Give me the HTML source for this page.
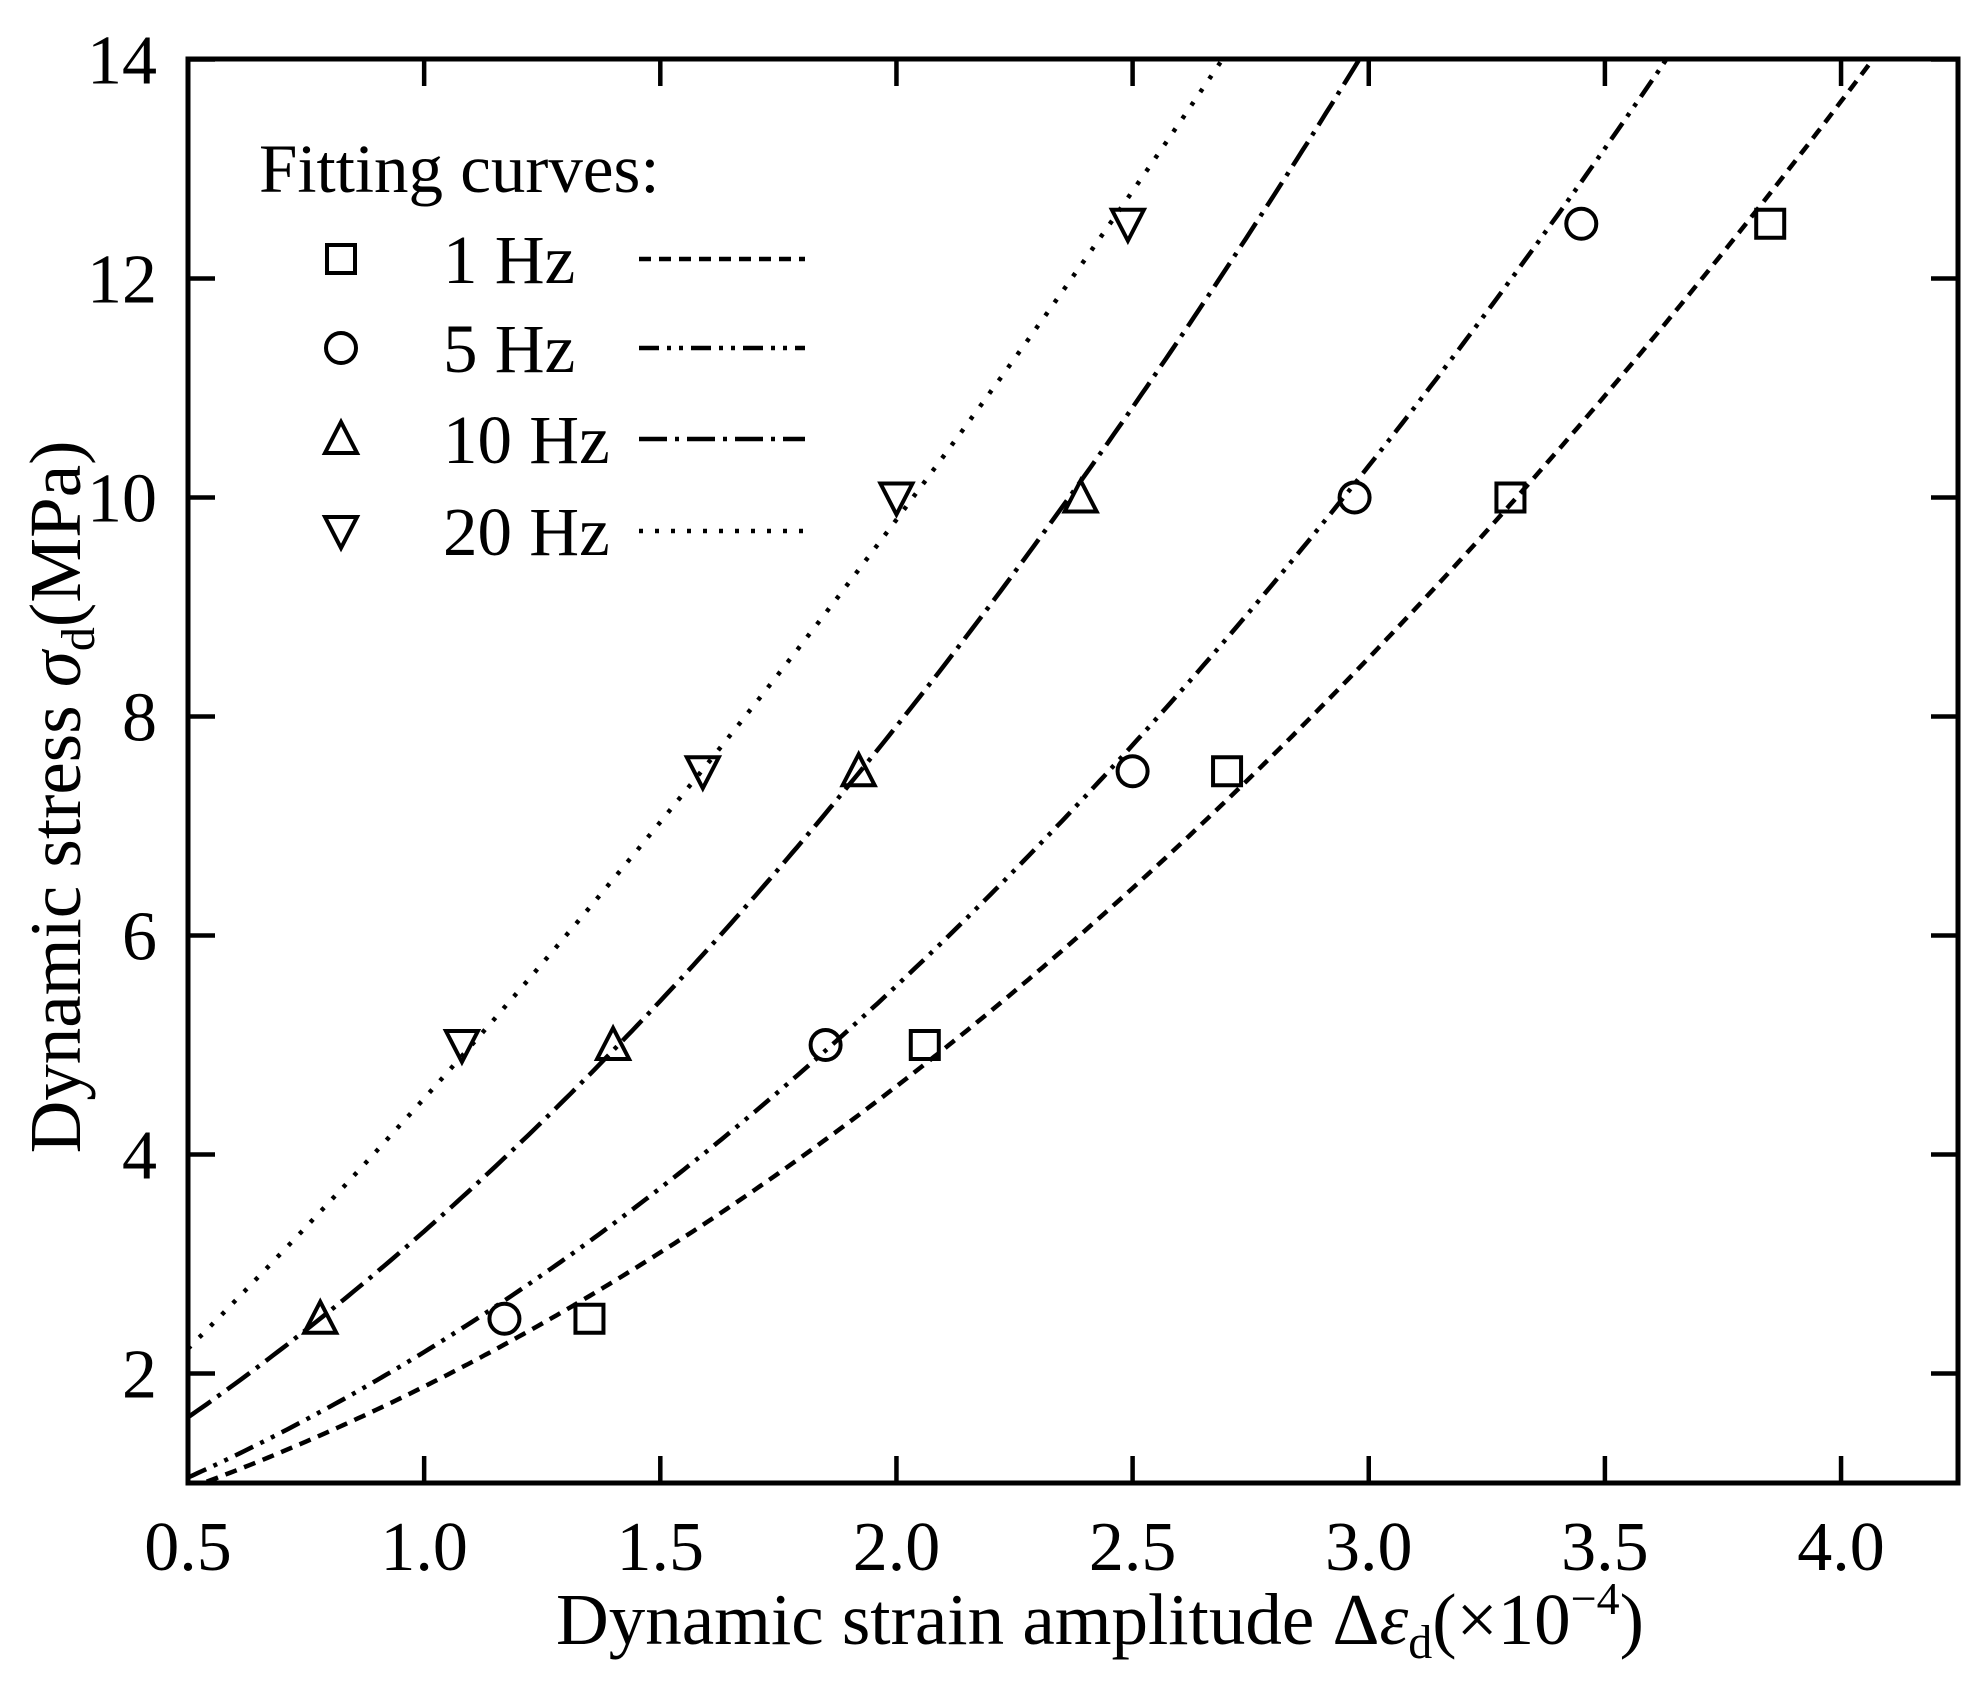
<!DOCTYPE html>
<html><head><meta charset="utf-8"><style>
html,body{margin:0;padding:0;background:#fff}
svg{display:block}
text{font-family:"Liberation Serif",serif;fill:#000}
</style></head><body>
<svg id="s" width="1983" height="1696" viewBox="0 0 1983 1696" xmlns="http://www.w3.org/2000/svg">
<defs><clipPath id="c"><rect x="188" y="59" width="1770" height="1424"/></clipPath></defs>
<rect width="1983" height="1696" fill="#fff"/>
<g id="curves" clip-path="url(#c)" fill="none" stroke="#000" stroke-width="4.5"></g>
<g id="marks" fill="none" stroke="#000" stroke-width="4"></g>
<rect x="188" y="59" width="1770" height="1424" fill="none" stroke="#000" stroke-width="5"/>
<g id="ticks" stroke="#000" stroke-width="4.5"></g>
<g id="labels" font-size="70"></g>
<text x="1100" y="1644" font-size="73" text-anchor="middle">Dynamic strain amplitude Δ<tspan font-style="italic">ε</tspan><tspan font-size="48" dy="14">d</tspan><tspan dy="-14">(×10</tspan><tspan font-size="46" dy="-30">−4</tspan><tspan dy="30">)</tspan></text>
<text transform="translate(80,797) rotate(-90)" font-size="73" text-anchor="middle">Dynamic stress <tspan font-style="italic">σ</tspan><tspan font-size="48" dy="14">d</tspan><tspan dy="-14">(MPa)</tspan></text>
<g font-size="69">
<text x="259" y="192">Fitting curves:</text>
<text x="443" y="283">1 Hz</text>
<text x="443" y="372">5 Hz</text>
<text x="443" y="463">10 Hz</text>
<text x="443" y="555">20 Hz</text>
</g>
<g id="leg" fill="none" stroke="#000" stroke-width="4.5"></g>
</svg>
<script>
var NS="http://www.w3.org/2000/svg";
function X(v){return 188+(v-0.5)*472.3;}
function Y(v){return 1483-(v-1)*109.5;}
function el(p,t,a){var e=document.createElementNS(NS,t);for(var k in a)e.setAttribute(k,a[k]);document.getElementById(p).appendChild(e);return e;}
var curves=[
 {c:0.309,a:0.987,b:0.585,d:"12 8"},
 {c:0.255,a:1.24,b:0.7015,d:"20 8 4 8 4 8"},
 {c:0.305,a:2.185,b:0.809,d:"28 8 4 8"},
 {c:0.178,a:3.858,b:0.476,d:"4 12"}
];
curves.forEach(function(k){
 var pts=[];for(var x=0.5;x<=4.3;x+=0.01){pts.push(X(x).toFixed(1)+","+Y(k.c+k.a*x+k.b*x*x).toFixed(1));}
 el("curves","polyline",{points:pts.join(" "),"stroke-dasharray":k.d});
});
var legY=[259,348,439,531];
curves.forEach(function(k,i){el("leg","line",{x1:639,y1:legY[i],x2:805,y2:legY[i],"stroke-dasharray":k.d});});
function mark(t,cx,cy){
 var s=14;
 if(t==0)el("marks","rect",{x:cx-s,y:cy-s,width:2*s,height:2*s});
 if(t==1)el("marks","circle",{cx:cx,cy:cy,r:s+1});
 if(t==2)el("marks","polygon",{points:(cx)+","+(cy-s-3)+" "+(cx-s-2)+","+(cy+s)+" "+(cx+s+2)+","+(cy+s)});
 if(t==3)el("marks","polygon",{points:(cx)+","+(cy+s+3)+" "+(cx-s-2)+","+(cy-s)+" "+(cx+s+2)+","+(cy-s)});
}
var data=[
 [[1.35,2.5],[2.06,5],[2.70,7.5],[3.30,10],[3.85,12.5]],
 [[1.17,2.5],[1.85,5],[2.50,7.5],[2.97,10],[3.45,12.5]],
 [[0.78,2.5],[1.40,5],[1.92,7.5],[2.39,10]],
 [[1.08,5],[1.59,7.5],[2.00,10],[2.49,12.5]]
];
data.forEach(function(d,i){d.forEach(function(p){mark(i,X(p[0]),Y(p[1]));});mark(i,341,legY[i]);});
for(var v=0.5;v<=4.01;v+=0.5){var x=X(v);
 el("ticks","line",{x1:x,y1:1483,x2:x,y2:1456});el("ticks","line",{x1:x,y1:59,x2:x,y2:86});
 var t=el("labels","text",{x:x,y:1570,"text-anchor":"middle"});t.textContent=v.toFixed(1);}
for(var v=2;v<=14;v+=2){var y=Y(v);
 el("ticks","line",{x1:188,y1:y,x2:215,y2:y});el("ticks","line",{x1:1958,y1:y,x2:1931,y2:y});
 var t=el("labels","text",{x:157,y:y+24,"text-anchor":"end"});t.textContent=v;}
</script>
</body></html>
